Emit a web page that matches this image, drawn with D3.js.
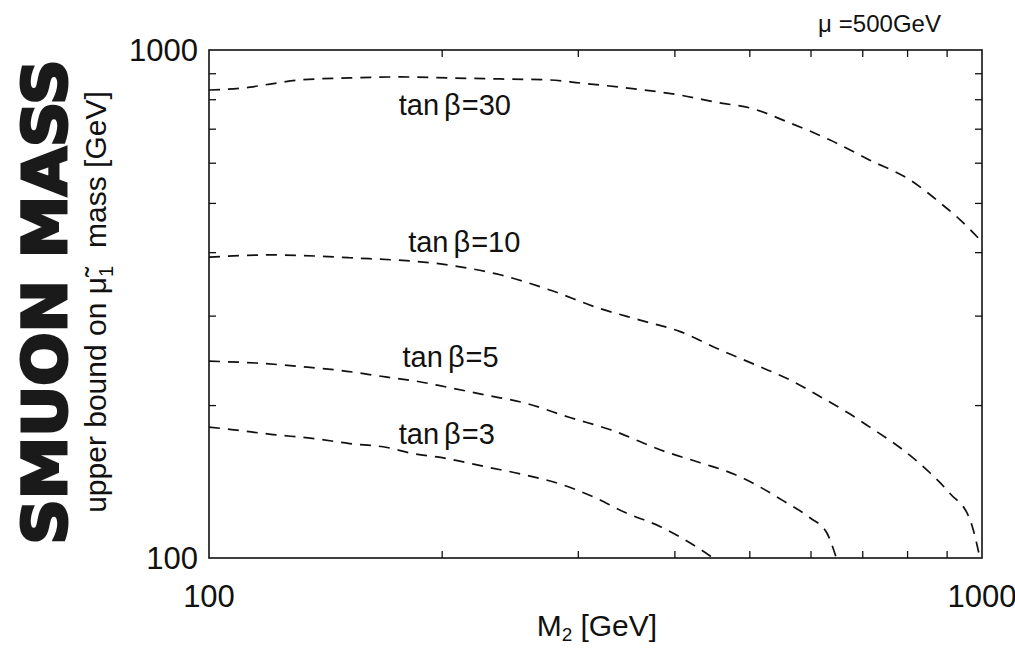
<html>
<head>
<script src="https://cdn.jsdelivr.net/npm/d3@7"></script>
</head>
<body style="margin:0; padding:0; background:#fff;">
<script>
// curve data: M2 [GeV] vs upper bound on smuon mass [GeV]
var m2_tb30 = [100, 113, 120, 131, 152, 177, 205, 238, 276, 302, 340, 407, 458, 501, 565, 636, 716, 807, 883, 937, 1000];
var mass_tb30 = [834, 845, 857, 873, 881, 885, 881, 877, 873, 861, 845, 815, 787, 769, 718, 665, 607, 555, 500, 463, 419];

var m2_tb10 = [100, 120, 152, 205, 238, 276, 320, 361, 407, 458, 516, 565, 617, 675, 716, 783, 857, 909, 965, 994];
var mass_tb10 = [391, 395, 390, 377, 361, 337, 310, 294, 279, 257, 238, 224, 208, 192, 181, 165, 147, 134, 119, 100];

var m2_tb5 = [100, 115, 132, 148, 170, 185, 203, 229, 256, 293, 330, 389, 432, 479, 516, 556, 599, 630, 648];
var mass_tb5 = [244, 242, 238, 234, 227, 223, 217, 209, 202, 189, 179, 162, 154, 146, 138, 129, 120, 112, 100];

var m2_tb3 = [100, 107, 121, 136, 152, 170, 182, 203, 229, 255, 284, 314, 345, 385, 428, 449];
var mass_tb3 = [181, 179, 175, 172, 168, 165, 161, 157, 151, 146, 140, 132, 123, 115, 105, 100];

var tanBetas = ["30", "10", "5", "3"];
var labelM2 = [176, 181, 178, 176];
var labelMass = [745, 400, 238, 168];

var tickValues = [100, 200, 300, 400, 500, 600, 700, 800, 900, 1000];
var tickLabels = ["100", "1000"];

var series = [
  {m2: m2_tb30, mass: mass_tb30},
  {m2: m2_tb10, mass: mass_tb10},
  {m2: m2_tb5, mass: mass_tb5},
  {m2: m2_tb3, mass: mass_tb3}
];

var W = 1015, H = 648;
var pLeft = 209, pRight = 982, pTop = 50, pBottom = 558;
var font = "'Liberation Sans', Arial, Helvetica, sans-serif";

var svg = d3.select("body").append("svg")
  .attr("width", W)
  .attr("height", H)
  .style("font-family", font);

var x = d3.scaleLog().domain([100, 1000]).range([pLeft, pRight]);
var y = d3.scaleLog().domain([100, 1000]).range([pBottom, pTop]);

// frame
svg.append("rect")
  .attr("x", pLeft).attr("y", pTop)
  .attr("width", pRight - pLeft).attr("height", pBottom - pTop)
  .attr("fill", "none").attr("stroke", "#111").attr("stroke-width", 1.6);

// inward ticks on all four sides
var inner = tickValues.slice(1, -1);
function tickAxis(axis, tr) {
  var g = svg.append("g").attr("transform", tr).call(axis);
  g.select(".domain").remove();
  g.selectAll("text").remove();
  g.selectAll("line").attr("stroke", "#111").attr("stroke-width", 1.3);
}
tickAxis(d3.axisTop(x).tickValues(inner).tickSize(7), "translate(0," + pBottom + ")");
tickAxis(d3.axisBottom(x).tickValues(inner).tickSize(7), "translate(0," + pTop + ")");
tickAxis(d3.axisRight(y).tickValues(inner).tickSize(7), "translate(" + pLeft + ",0)");
tickAxis(d3.axisLeft(y).tickValues(inner).tickSize(7), "translate(" + pRight + ",0)");

// tick labels
svg.selectAll(".xl").data(tickLabels).enter().append("text")
  .attr("x", function(d) { return x(+d); })
  .attr("y", 607)
  .attr("text-anchor", "middle")
  .attr("font-size", 31)
  .attr("fill", "#111")
  .text(function(d) { return d; });

svg.selectAll(".yl").data(tickLabels).enter().append("text")
  .attr("x", 198)
  .attr("y", function(d) { return y(+d) + 11; })
  .attr("text-anchor", "end")
  .attr("font-size", 31)
  .attr("fill", "#111")
  .text(function(d) { return d; });

// dashed curves
var line = d3.line()
  .x(function(d) { return x(d[0]); })
  .y(function(d) { return y(d[1]); })
  .curve(d3.curveMonotoneX);

svg.selectAll(".curve").data(series).enter().append("path")
  .attr("d", function(s) { return line(d3.zip(s.m2, s.mass)); })
  .attr("fill", "none")
  .attr("stroke", "#111")
  .attr("stroke-width", 1.7)
  .attr("stroke-dasharray", "11,8");

// curve labels
var lbl = svg.selectAll(".lbl").data(tanBetas).enter().append("text")
  .attr("x", function(d, i) { return x(labelM2[i]); })
  .attr("y", function(d, i) { return y(labelMass[i]); })
  .attr("font-size", 29)
  .attr("fill", "#111");
lbl.append("tspan").text("tan");
lbl.append("tspan").attr("dx", 5).text("β");
lbl.append("tspan").attr("dx", 1).text(function(d) { return "=" + d; });

// top-right annotation
var mu = svg.append("text").attr("x", 818).attr("y", 32).attr("font-size", 24).attr("fill", "#111");
mu.append("tspan").text("μ");
mu.append("tspan").attr("dx", 7).text("=500GeV");

// x axis title
var xt = svg.append("text").attr("x", 597).attr("y", 636)
  .attr("text-anchor", "middle").attr("font-size", 30).attr("fill", "#111");
xt.append("tspan").text("M");
xt.append("tspan").attr("font-size", 19).attr("dy", 5).text("2");
xt.append("tspan").attr("dy", -5).attr("dx", 8).text("[GeV]");

// y axis title
var yt = svg.append("text")
  .attr("transform", "translate(106,302) rotate(-90)")
  .attr("text-anchor", "middle").attr("font-size", 30).attr("fill", "#111");
yt.append("tspan").text("upper bound on ");
yt.append("tspan").text("μ̃");
yt.append("tspan").attr("font-size", 20).attr("dy", 7).text("1");
yt.append("tspan").attr("dy", -7).attr("dx", 18).text("mass [GeV]");

// hand-written marker note
svg.append("text")
  .attr("transform", "translate(66,302) rotate(-90)")
  .attr("text-anchor", "middle")
  .attr("font-family", "'DejaVu Sans', sans-serif")
  .attr("font-weight", "bold")
  .attr("font-size", 60)
  .attr("textLength", 485)
  .attr("lengthAdjust", "spacingAndGlyphs")
  .attr("fill", "#1a1a1a")
  .attr("stroke", "#1a1a1a")
  .attr("stroke-width", 3)
  .text("SMUON MASS");
</script>
</body>
</html>
